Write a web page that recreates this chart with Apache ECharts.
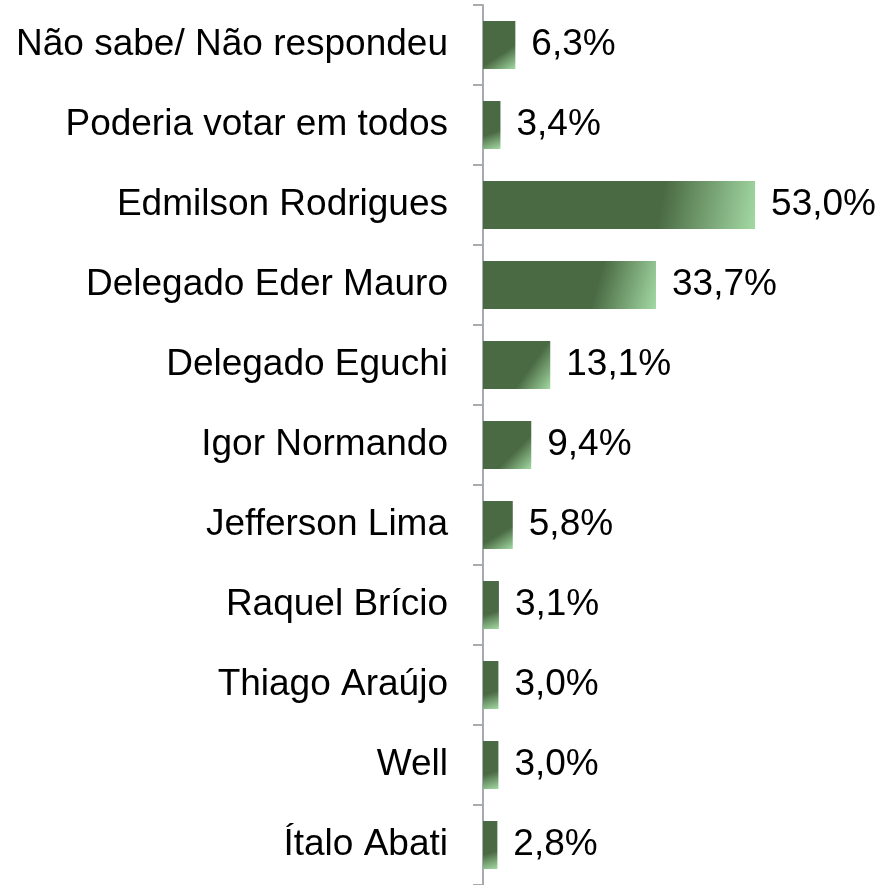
<!DOCTYPE html>
<html>
<head>
<meta charset="utf-8">
<script src="https://cdn.jsdelivr.net/npm/echarts@6/dist/echarts.min.js"></script>
<style>html,body{margin:0;padding:0;background:#fff}#c{width:880px;height:885px}</style>
</head>
<body>
<div id="c"></div>
<script>
const categories = ["Não sabe/ Não respondeu","Poderia votar em todos","Edmilson Rodrigues","Delegado Eder Mauro","Delegado Eguchi","Igor Normando","Jefferson Lima","Raquel Brício","Thiago Araújo","Well","Ítalo Abati"];
const values = [6.3,3.4,53.0,33.7,13.1,9.4,5.8,3.1,3.0,3.0,2.8];

const chart = echarts.init(document.getElementById('c'), null, {renderer:'canvas'});
chart.setOption({
  animation:false,
  grid:{left:483, top:5, width:308, height:880, containLabel:false},
  xAxis:{type:'value', min:0, max:60, show:false},
  yAxis:{type:'category', data:categories, inverse:true,
    axisLine:{show:true, lineStyle:{color:'#A7ABB0', width:2}},
    axisTick:{show:true, length:10, lineStyle:{color:'#A7ABB0', width:2}},
    axisLabel:{color:'#000', fontSize:37, fontFamily:'Liberation Sans, Arial, sans-serif', margin:35, padding:[10,0,0,0]}
  },
  series:[{
    type:'bar', data:values, barWidth:48,
    itemStyle:{color:{type:'linear', x:0, y:0, x2:1, y2:1, colorStops:[
      {offset:0, color:'#4a6a43'},{offset:0.65, color:'#4a6a43'},{offset:1, color:'#a3d9a3'}]}},
    label:{show:true, position:'right', distance:16, color:'#000', fontSize:37, padding:[10,0,0,0],
      fontFamily:'Liberation Sans, Arial, sans-serif',
      formatter:p=>p.value.toFixed(1).replace('.',',')+'%'}
  }]
});
</script>
</body>
</html>
